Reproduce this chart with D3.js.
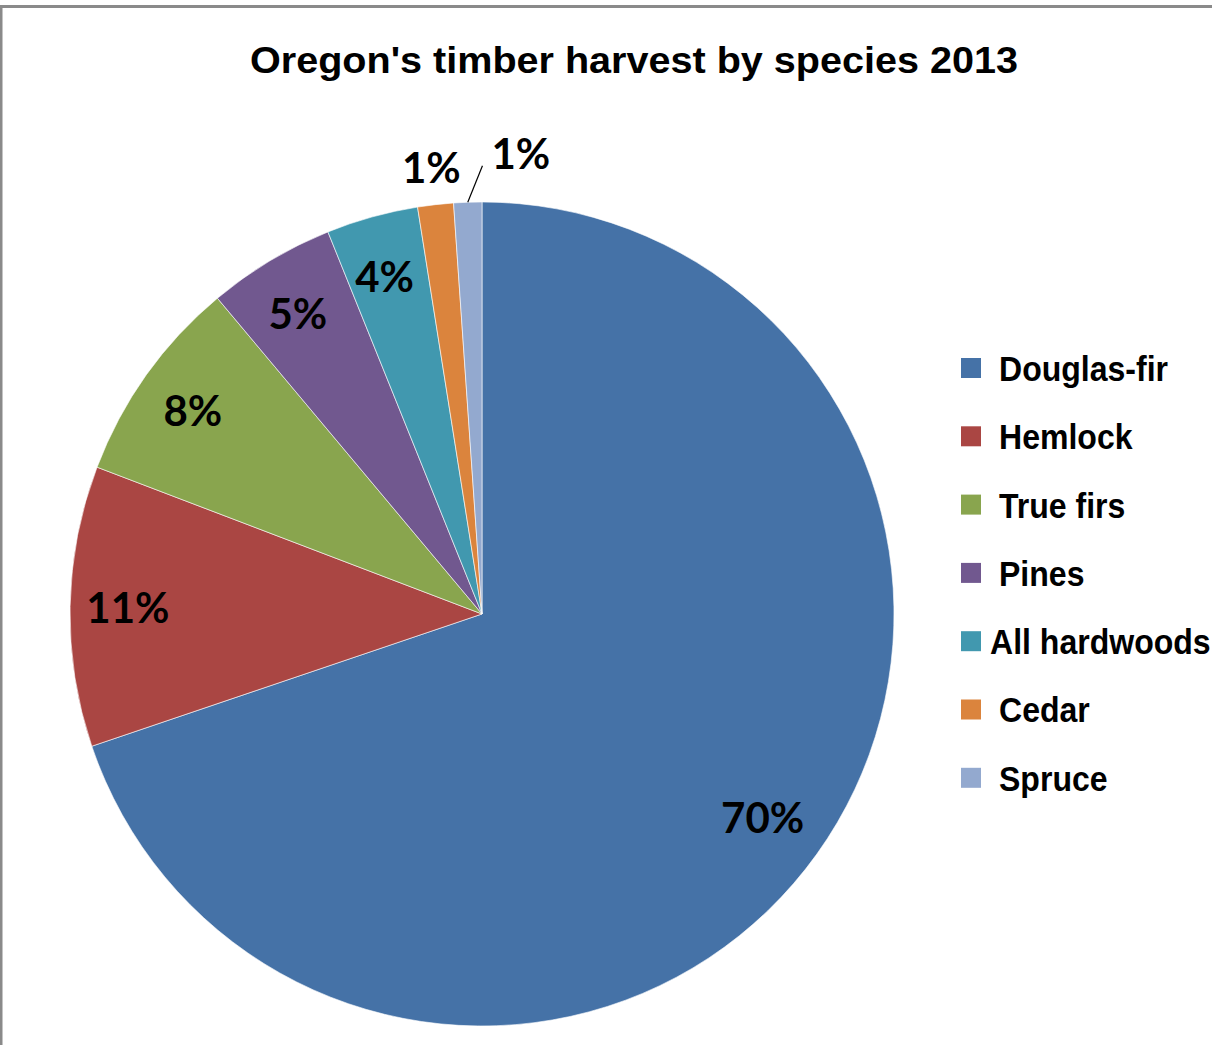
<!DOCTYPE html>
<html>
<head>
<meta charset="utf-8">
<script src="https://cdn.jsdelivr.net/npm/d3@7"></script>
<style>
  html, body { margin: 0; padding: 0; background: #fff; }
  svg { display: block; }
</style>
</head>
<body>
<svg id="chart" width="1212" height="1045"></svg>
<script>
// ---- data ----
const categories = ["Douglas-fir", "Hemlock", "True firs", "Pines", "All hardwoods", "Cedar", "Spruce"];
const values = [69.8, 11.0, 8.1, 5.0, 3.6, 1.4, 1.1];
const percentLabels = ["70%", "11%", "8%", "5%", "4%", "1%", "1%"];
const colors = ["#4572A7", "#AA4643", "#89A54E", "#71588F", "#4198AF", "#DB843D", "#93A9CF"];
const labelModes = ["inside", "inside", "inside", "inside", "inside", "outside", "leader"];
const title = "Oregon's timber harvest by species 2013";

// ---- layout ----
const W = 1212, H = 1045;
const cx = 482, cy = 614, R = 412;
const svg = d3.select("#chart");

// frame
svg.append("rect").attr("x", 1).attr("y", 6.5).attr("width", W + 10).attr("height", H + 10)
  .attr("fill", "none").attr("stroke", "#8a8a8a").attr("stroke-width", 3);

// title
svg.append("text")
  .attr("x", 634).attr("y", 73)
  .attr("text-anchor", "middle")
  .attr("font-family", "'Liberation Sans', Arial, sans-serif")
  .attr("font-weight", "bold")
  .attr("font-size", 37)
  .attr("textLength", 768)
  .attr("lengthAdjust", "spacingAndGlyphs")
  .attr("fill", "#000")
  .text(title);

const data = categories.map((c, i) => ({ name: c, value: values[i], label: percentLabels[i], color: colors[i], mode: labelModes[i] }));

const pie = d3.pie().value(d => d.value).sort(null);
const arcs = pie(data);
const arc = d3.arc().innerRadius(0).outerRadius(R);

const g = svg.append("g").attr("transform", `translate(${cx},${cy})`);

g.selectAll("path.slice").data(arcs).enter().append("path")
  .attr("class", "slice")
  .attr("d", arc)
  .attr("fill", d => d.data.color)
  .attr("stroke", "#ffffff")
  .attr("stroke-width", 0.6);

const labelFont = "Lato, 'Open Sans', sans-serif";
const insideArc = d3.arc().innerRadius(0.85 * R).outerRadius(0.85 * R);
const outsideArc = d3.arc().innerRadius(1.09 * R).outerRadius(1.09 * R);

function mid(d) { return (d.startAngle + d.endAngle) / 2; }
function polar(angle, r) { return [r * Math.sin(angle), -r * Math.cos(angle)]; }

arcs.forEach(d => {
  let x, y, anchor = "middle";
  if (d.data.mode === "inside") {
    [x, y] = insideArc.centroid(d);
    x -= 4;
  } else if (d.data.mode === "outside") {
    [x, y] = outsideArc.centroid(d);
  } else {
    const a0 = mid(d);
    const p0 = polar(a0, R);
    const p1 = polar(0.001, 1.088 * R);
    g.append("line")
      .attr("x1", p0[0]).attr("y1", p0[1])
      .attr("x2", p1[0]).attr("y2", p1[1])
      .attr("stroke", "#000").attr("stroke-width", 1.2);
    x = p1[0] + 9; y = p1[1] - 12;
    anchor = "start";
  }
  g.append("text")
    .attr("x", x).attr("y", y)
    .attr("dy", "0.36em")
    .attr("text-anchor", anchor)
    .attr("font-family", labelFont)
    .attr("font-weight", "bold")
    .attr("font-size", 42)
    .attr("fill", "#000")
    .text(d.data.label);
});

// legend
const legend = svg.append("g");
const legendX = 961, legendY0 = 368, legendStep = 68.3;
data.forEach((d, i) => {
  const y = legendY0 + i * legendStep;
  legend.append("rect")
    .attr("x", legendX).attr("y", y - 10)
    .attr("width", 20).attr("height", 20)
    .attr("fill", d.color);
  const long = d.name === "All hardwoods";
  legend.append("text")
    .attr("transform", `translate(${long ? 990 : 999},${y}) scale(0.89,1)`)
    .attr("dy", "0.36em")
    .attr("font-family", "'Liberation Sans', Arial, sans-serif")
    .attr("font-weight", "bold")
    .attr("font-size", 36)
    .attr("fill", "#000")
    .text(d.name);
});
</script>
</body>
</html>
